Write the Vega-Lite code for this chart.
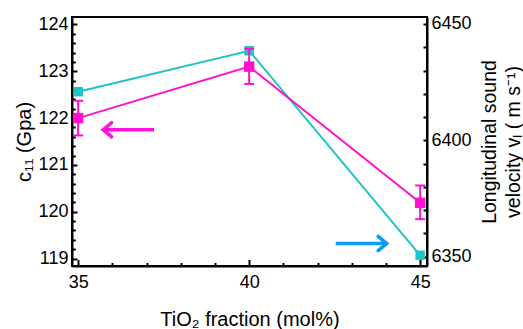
{
  "$schema": "https://vega.github.io/schema/vega-lite/v6.json",
  "width": 355,
  "height": 249,
  "autosize": "none",
  "padding": {"left": 72, "top": 17, "right": 96, "bottom": 63},
  "background": "white",
  "config": {
    "font": "Liberation Sans",
    "view": {"stroke": "black", "strokeWidth": 2},
    "axis": {
      "grid": false,
      "domainColor": "black",
      "domainWidth": 2,
      "tickColor": "black",
      "tickWidth": 2,
      "labelColor": "black",
      "titleColor": "black",
      "labelFontSize": 18,
      "titleFontSize": 20,
      "titleFontWeight": "normal",
      "labelOverlap": false,
      "labelFlush": false
    }
  },
  "datasets": {
    "c11": [
      {"x": 35, "c": 122.0, "lo": 121.63, "hi": 122.37},
      {"x": 40, "c": 123.1, "lo": 122.73, "hi": 123.48},
      {"x": 45, "c": 120.19, "lo": 119.84, "hi": 120.56}
    ],
    "vel": [
      {"x": 35, "v": 6420.9},
      {"x": 40, "v": 6438.5},
      {"x": 45, "v": 6350.6}
    ],
    "arrows": [
      {"x": 35.73, "xe": 37.22, "c": 121.75, "side": "left"},
      {"x": 44.02, "xe": 42.53, "c": 119.32, "side": "right"}
    ]
  },
  "encoding": {
    "x": {
      "field": "x",
      "type": "quantitative",
      "title": "TiO₂ fraction (mol%)",
      "scale": {"domain": [34.82, 45.2], "nice": false, "zero": false},
      "axis": {
        "values": [35, 36, 37, 38, 39, 40, 41, 42, 43, 44, 45],
        "tickCount": 100,
        "format": "d",
        "labelExpr": "datum.value % 5 === 0 ? format(datum.value, 'd') : ''",
        "tickSize": {"condition": {"test": "datum.value % 5 === 0", "value": -6.5}, "value": -3.5},
        "labelOverlap": false,
        "labelFlush": false,
        "labelPadding": 14,
        "titlePadding": 15
      }
    }
  },
  "layer": [
    {
      "data": {"name": "vel"},
      "encoding": {
        "y": {
          "field": "v",
          "type": "quantitative",
          "title": ["Longitudinal sound", "velocity vₗ ( m s⁻¹)"],
          "scale": {"domain": [6346, 6453], "nice": false, "zero": false},
          "axis": {
            "orient": "right",
            "values": [6350, 6360, 6370, 6380, 6390, 6400, 6410, 6420, 6430, 6440, 6450],
            "tickCount": 100,
            "labelExpr": "datum.value % 50 === 0 ? format(datum.value, 'd') : ''",
            "format": "d",
            "tickSize": -4,
            "labelOverlap": false,
            "labelFlush": false,
            "labelPadding": 8,
            "titleAngle": 270,
            "titleFontSize": 19.5,
            "titleLineHeight": 24,
            "titlePadding": 4
          }
        }
      },
      "layer": [
        {"mark": {"type": "line", "color": "#20C4C4", "strokeWidth": 2}},
        {"mark": {"type": "point", "shape": "square", "filled": true, "opacity": 1, "color": "#20C4C4", "size": 90}}
      ]
    },
    {
      "layer": [
        {
          "data": {"name": "c11"},
          "encoding": {
            "y": {
              "field": "c",
              "type": "quantitative",
              "title": "c₁₁ (Gpa)",
              "scale": {"domain": [118.84, 124.16], "nice": false, "zero": false},
              "axis": {
                "orient": "left",
                "values": [119, 119.2, 119.4, 119.6, 119.8, 120, 120.2, 120.4, 120.6, 120.8, 121, 121.2, 121.4, 121.6, 121.8, 122, 122.2, 122.4, 122.6, 122.8, 123, 123.2, 123.4, 123.6, 123.8, 124],
                "tickCount": 100,
                "labelExpr": "abs(datum.value - round(datum.value)) < 0.01 ? format(datum.value, 'd') : ''",
                "tickSize": {"condition": {"test": "abs(datum.value - round(datum.value)) < 0.01", "value": -5}, "value": -3.3},
                "labelOverlap": false,
                "labelFlush": false,
                "labelPadding": 9,
                "titlePadding": 3
              }
            }
          },
          "layer": [
            {"mark": {"type": "line", "color": "#FF10CC", "strokeWidth": 2}},
            {
              "mark": {"type": "rule", "color": "#FF10CC", "strokeWidth": 2},
              "encoding": {
                "y": {"field": "lo", "type": "quantitative", "title": "c₁₁ (Gpa)"},
                "y2": {"field": "hi"}
              }
            },
            {
              "mark": {"type": "tick", "orient": "horizontal", "color": "#FF10CC", "size": 10, "thickness": 2, "opacity": 1},
              "encoding": {"y": {"field": "lo", "type": "quantitative", "title": "c₁₁ (Gpa)"}}
            },
            {
              "mark": {"type": "tick", "orient": "horizontal", "color": "#FF10CC", "size": 10, "thickness": 2, "opacity": 1},
              "encoding": {"y": {"field": "hi", "type": "quantitative", "title": "c₁₁ (Gpa)"}}
            },
            {"mark": {"type": "point", "shape": "square", "filled": true, "opacity": 1, "color": "#FF10CC", "size": 110}}
          ]
        },
        {
          "data": {"name": "arrows"},
          "encoding": {
            "y": {"field": "c", "type": "quantitative", "title": "c₁₁ (Gpa)"},
            "color": {
              "field": "side",
              "type": "nominal",
              "legend": null,
              "scale": {"domain": ["left", "right"], "range": ["#FF10E0", "#0A9CF2"]}
            }
          },
          "layer": [
            {
              "mark": {"type": "rule", "strokeWidth": 3.5},
              "encoding": {"x2": {"field": "xe"}}
            },
            {
              "mark": {"type": "point", "filled": false, "opacity": 1, "strokeWidth": 3.5, "size": 200, "strokeCap": "round", "strokeJoin": "miter"},
              "encoding": {
                "shape": {
                  "field": "side",
                  "type": "nominal",
                  "legend": null,
                  "scale": {"domain": ["left", "right"], "range": ["M1.2,-1L0,0L1.2,1", "M-1.2,-1L0,0L-1.2,1"]}
                }
              }
            }
          ]
        }
      ]
    }
  ],
  "resolve": {"scale": {"y": "independent"}}
}
